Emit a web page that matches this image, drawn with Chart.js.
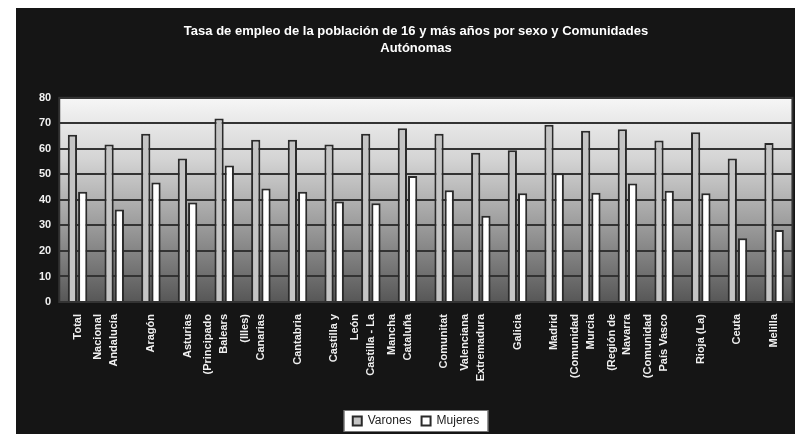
<!DOCTYPE html>
<html>
<head>
<meta charset="utf-8">
<script src="https://cdn.jsdelivr.net/npm/chart.js@4.4.1/dist/chart.umd.min.js"></script>
<style>
  html, body { margin: 0; padding: 0; background: #fff; overflow: hidden; }
  #wrap { position: absolute; left: 16px; top: 8px; width: 783px; height: 426px; background: #151515; }
</style>
</head>
<body>
<div id="wrap"><canvas id="grafico"></canvas></div>
<script>
// Comunidades Autónomas (etiquetas en varias líneas)
const comunidades = [
  ['Total', 'Nacional'], 'Andalucía', 'Aragón', ['Asturias', '(Principado'], ['Balears', '(Illes)'],
  'Canarias', 'Cantabria', ['Castilla y', 'León'], ['Castilla - La', 'Mancha'], 'Cataluña',
  ['Comunitat', 'Valenciana'], 'Extremadura', 'Galicia', ['Madrid', '(Comunidad'], ['Murcia', '(Región de'],
  ['Navarra', '(Comunidad'], 'País Vasco', 'Rioja (La)', 'Ceuta', 'Melilla'
];
const varones = [65.5, 61.7, 65.9, 56.2, 71.9, 63.6, 63.6, 61.7, 65.9, 68.1, 65.9, 58.5, 59.5, 69.4, 67.1, 67.7, 63.3, 66.5, 56.2, 62.3];
const mujeres = [43.2, 36.2, 46.8, 39.0, 53.5, 44.5, 43.2, 39.4, 38.7, 49.4, 43.8, 33.8, 42.6, 50.4, 42.8, 46.4, 43.6, 42.6, 25.0, 28.2];
const ticksY = [0, 10, 20, 30, 40, 50, 60, 70, 80];

// fondo negro, degradado del área de trazado y caja blanca de la leyenda
const fondo = {
  id: 'fondo',
  beforeDraw(chart) {
    const c = chart.ctx;
    const a = chart.chartArea;
    c.save();
    c.fillStyle = '#151515';
    c.fillRect(0, 0, chart.width, chart.height);
    const g = c.createLinearGradient(0, a.top, 0, a.bottom);
    g.addColorStop(0, '#f6f6f6');
    g.addColorStop(0.3, '#d4d4d4');
    g.addColorStop(0.65, '#979797');
    g.addColorStop(1, '#575757');
    c.fillStyle = g;
    c.fillRect(a.left, a.top, a.right - a.left, a.bottom - a.top);
    c.strokeStyle = '#333';
    c.lineWidth = 2;
    c.strokeRect(a.left, a.top, a.right - a.left, a.bottom - a.top);
    const hb = chart.legend.legendHitBoxes;
    if (hb && hb.length) {
      const x0 = hb[0].left - 9;
      const x1 = hb[hb.length - 1].left + hb[hb.length - 1].width + 9;
      const y0 = hb[0].top - 5;
      const h = hb[0].height + 10;
      c.fillStyle = '#ffffff';
      c.fillRect(x0, y0, x1 - x0, h);
      c.strokeStyle = '#777';
      c.lineWidth = 1;
      c.strokeRect(x0 + 0.5, y0 + 0.5, x1 - x0 - 1, h - 1);
    }
    c.restore();
  }
};

const ctx = document.getElementById('grafico').getContext('2d');
new Chart(ctx, {
  type: 'bar',
  data: {
    labels: comunidades,
    datasets: [
      { label: 'Varones', data: varones, backgroundColor: '#c4c4c4', borderColor: '#2a2a2a', borderWidth: 2 },
      { label: 'Mujeres', data: mujeres, backgroundColor: '#ffffff', borderColor: '#2a2a2a', borderWidth: 2 }
    ]
  },
  options: {
    responsive: true,
    maintainAspectRatio: false,
    animation: false,
    layout: { padding: { left: 15, right: -2, top: 6, bottom: -3 } },
    datasets: { bar: { categoryPercentage: 0.56, barPercentage: 0.9 } },
    scales: {
      x: {
        grid: { display: false },
        border: { display: false },
        afterFit(axis) { axis.height = 103; },
        ticks: {
          color: '#f0f0f0',
          font: { family: 'Liberation Sans', size: 11, weight: 'bold', lineHeight: 1.9 },
          minRotation: 90, maxRotation: 90, autoSkip: false, padding: 4
        }
      },
      y: {
        min: 0, max: 80,
        afterBuildTicks(axis) { axis.ticks = ticksY.map(v => ({ value: v })); },
        grid: { color: '#333', lineWidth: 2, drawTicks: false },
        border: { display: false },
        ticks: {
          color: '#f0f0f0', padding: 8,
          font: { family: 'Liberation Sans', size: 11, weight: 'bold' }
        }
      }
    },
    plugins: {
      title: {
        display: true,
        text: ['Tasa de empleo de la población de 16 y más años por sexo y Comunidades', 'Autónomas'],
        color: '#ffffff',
        font: { family: 'Liberation Sans', size: 13, weight: 'bold', lineHeight: 1.3 },
        padding: { top: 9, bottom: 41 }
      },
      legend: {
        position: 'bottom',
        labels: {
          color: '#222',
          boxWidth: 9, boxHeight: 9,
          padding: 10,
          font: { family: 'Liberation Sans', size: 12 }
        }
      },
      tooltip: { enabled: false }
    }
  },
  plugins: [fondo]
});
</script>
</body>
</html>
